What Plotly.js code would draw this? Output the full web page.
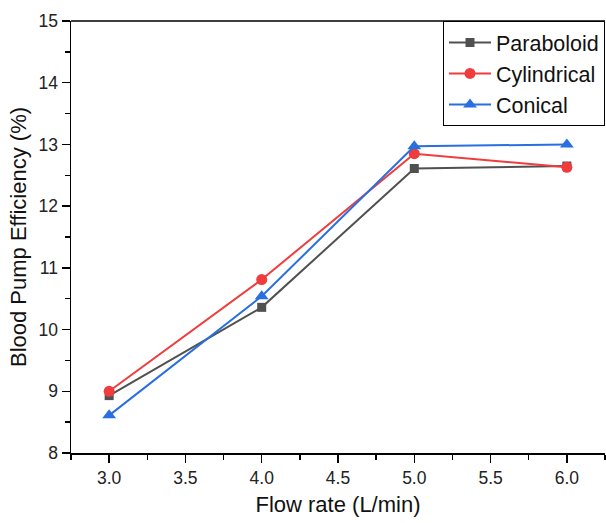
<!DOCTYPE html>
<html><head><meta charset="utf-8">
<script src="https://cdn.plot.ly/plotly-3.0.1.min.js"></script>
<style>html,body{margin:0;padding:0;background:#fff}#c{width:606px;height:523px}</style>
</head><body><div id="c"></div>
<script>
const flowRate = [3.0, 4.0, 5.0, 6.0];
const paraboloid = [8.93, 10.36, 12.61, 12.65];
const cylindrical = [9.0, 10.81, 12.85, 12.63];
const conical = [8.61, 10.54, 12.97, 13.0];
const seriesNames = ['Paraboloid', 'Cylindrical', 'Conical'];

const font = 'Liberation Sans, Arial, sans-serif';
const traces = [
  {x: flowRate, y: paraboloid, name: seriesNames[0], mode: 'lines+markers', line: {color: '#505050', width: 2}, marker: {symbol: 'square', size: 9, color: '#505050'}},
  {x: flowRate, y: cylindrical, name: seriesNames[1], mode: 'lines+markers', line: {color: '#f03c3c', width: 2}, marker: {symbol: 'circle', size: 11, color: '#f03c3c'}},
  {x: flowRate, y: conical, name: seriesNames[2], mode: 'lines+markers', line: {color: '#2a6fe0', width: 2}, marker: {symbol: 'triangle-up', size: 12, color: '#2a6fe0'}}
];
const layout = {
  width: 606, height: 523,
  margin: {l: 70.5, r: 1, t: 20.5, b: 69.5},
  paper_bgcolor: '#fff', plot_bgcolor: '#fff',
  font: {family: font, size: 18, color: '#000'},
  showlegend: true,
  legend: {x: 1, xanchor: 'right', y: 1, yanchor: 'top', bordercolor: '#000', borderwidth: 1, bgcolor: '#fff', font: {size: 21.5, family: font, color: '#111'}, tracegroupgap: 0, itemwidth: 42},
  xaxis: {
    range: [2.75, 6.25], tickvals: [3, 3.5, 4, 4.5, 5, 5.5, 6], ticktext: ['3.0','3.5','4.0','4.5','5.0','5.5','6.0'],
    ticks: 'outside', ticklen: 8, tickwidth: 1.5, tickcolor: '#000',
    minor: {dtick: 0.25, ticks: 'outside', ticklen: 5, tickwidth: 1.5, tickcolor: '#000', tick0: 2.75},
    showline: true, linecolor: '#000', linewidth: 1.5, mirror: false, showgrid: false, zeroline: false,
    tickfont: {size: 17.5, color: '#222'},
    title: {text: 'Flow rate (L/min)', font: {size: 22, color: '#111'}, standoff: 10}
  },
  yaxis: {
    range: [8, 15], dtick: 1, tick0: 8,
    ticks: 'outside', ticklen: 8, tickwidth: 1.5, tickcolor: '#000',
    minor: {dtick: 0.5, ticks: 'outside', ticklen: 5, tickwidth: 1.5, tickcolor: '#000'},
    showline: true, linecolor: '#000', linewidth: 1.5, showgrid: false, zeroline: false,
    tickfont: {size: 17.5, color: '#222'},
    title: {text: 'Blood Pump Efficiency (%)', font: {size: 22, color: '#111'}, standoff: 6}
  },
  shapes: [{type: 'line', xref: 'paper', yref: 'paper', x0: 0, x1: 1, y0: 1, y1: 1, line: {color: '#000', width: 1.5}}]
};
Plotly.newPlot('c', traces, layout, {displayModeBar: false, staticPlot: true});
</script></body></html>
